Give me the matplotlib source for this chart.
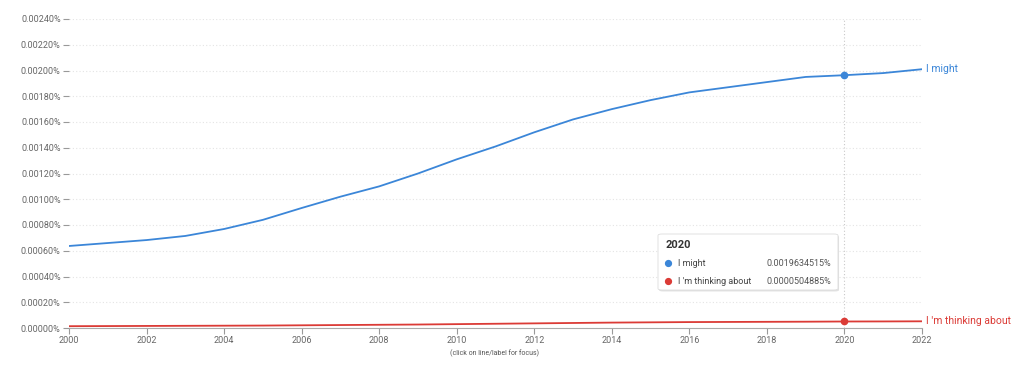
import matplotlib
matplotlib.use("Agg")
import matplotlib.pyplot as plt
from matplotlib.patches import FancyBboxPatch
from matplotlib.lines import Line2D

plt.rcParams['font.family'] = ['Roboto', 'DejaVu Sans']

years = list(range(2000, 2023))
# values in percent
i_might = [0.000637, 0.000660, 0.000683, 0.000715, 0.000769, 0.000840, 0.000932,
           0.001020, 0.001100, 0.001200, 0.001310, 0.001410, 0.001520, 0.001620,
           0.001700, 0.001770, 0.001830, 0.001870, 0.001910, 0.001950, 0.0019634515,
           0.001980, 0.002010]
thinking = [0.000014, 0.000015, 0.000016, 0.000017, 0.000018, 0.000019, 0.000021,
            0.000023, 0.000025, 0.000027, 0.000030, 0.000033, 0.000036, 0.000039,
            0.000042, 0.000044, 0.000046, 0.000047, 0.000048, 0.000049, 0.0000504885,
            0.000051, 0.000052]
series_names = ["I might", "I 'm thinking about"]
colors = ["#3b86d8", "#db3b36"]
focus_year = 2020
yticks = [i * 0.0002 for i in range(13)]
xticks = list(range(2000, 2023, 2))

fig = plt.figure(figsize=(10.24, 3.69), dpi=100)
ax = fig.add_axes([69/1024, 1 - 328/369, 853/1024, 309/369])

ax.plot(years, i_might, color=colors[0], lw=1.3, zorder=3)
ax.plot(years, thinking, color=colors[1], lw=1.3, zorder=3)

fi = years.index(focus_year)
ax.axvline(focus_year, color="#c8c8c8", lw=0.8, ls=(0, (1, 2)), zorder=1)
ax.plot([focus_year], [i_might[fi]], 'o', color=colors[0], ms=4.5, zorder=4)
ax.plot([focus_year], [thinking[fi]], 'o', color=colors[1], ms=4.5, zorder=4)

ax.set_xlim(2000, 2022)
ax.set_ylim(0, 0.0024)
ax.set_yticks(yticks)
ax.set_yticklabels([f"{v:.5f}%" for v in yticks], fontsize=6.5, color="#666666")
ax.set_xticks(xticks)
ax.set_xticklabels([str(x) for x in xticks], fontsize=6.5, color="#666666")
ax.tick_params(axis='y', length=4, color="#999999", pad=2)
ax.tick_params(axis='x', length=4, color="#999999", pad=2)
ax.grid(axis='y', color="#e4e4e4", lw=0.8, ls=(0, (1, 2)))
for s in ['top', 'right', 'left']:
    ax.spines[s].set_visible(False)
ax.spines['bottom'].set_color("#aaaaaa")

ax.text(2022.1, i_might[-1], series_names[0], color=colors[0], fontsize=7.5, va='center', ha='left')
ax.text(2022.1, thinking[-1], series_names[1], color=colors[1], fontsize=7.5, va='center', ha='left')

fig.text(494/1024, 1 - 353/369, "(click on line/label for focus)", fontsize=5, color="#555555", ha='center', va='center')

# tooltip box (figure coords)
bx0, by0, bx1, by1 = 658/1024, 1 - 290/369, 838/1024, 1 - 234/369
shadow = FancyBboxPatch((bx0 + 0.001, by0 - 0.004), bx1 - bx0, by1 - by0,
                        boxstyle="round,pad=0,rounding_size=0.004", transform=fig.transFigure,
                        facecolor="#d0d0d0", edgecolor="none", alpha=0.6, zorder=5)
box = FancyBboxPatch((bx0, by0), bx1 - bx0, by1 - by0,
                     boxstyle="round,pad=0,rounding_size=0.004", transform=fig.transFigure,
                     facecolor="white", edgecolor="#dddddd", lw=0.6, zorder=6)
fig.patches.extend([shadow, box])
fig.text(666/1024, 1 - 245/369, str(focus_year), fontsize=8, color="#333333", fontweight='bold', va='center', zorder=7)
vals = [i_might[fi], thinking[fi]]
rows_y = [263, 281]
for name, col, v, ry in zip(series_names, colors, vals, rows_y):
    fig.add_artist(Line2D([668/1024], [1 - ry/369], marker='o', ms=4.2, color=col, lw=0,
                          transform=fig.transFigure, zorder=7))
    fig.text(678/1024, 1 - ry/369, name, fontsize=6.5, color="#444444", va='center', zorder=7)
    fig.text(831/1024, 1 - ry/369, f"{v:.10f}%", fontsize=6.5, color="#555555", va='center', ha='right', zorder=7)

fig.savefig("out.png", dpi=100)
